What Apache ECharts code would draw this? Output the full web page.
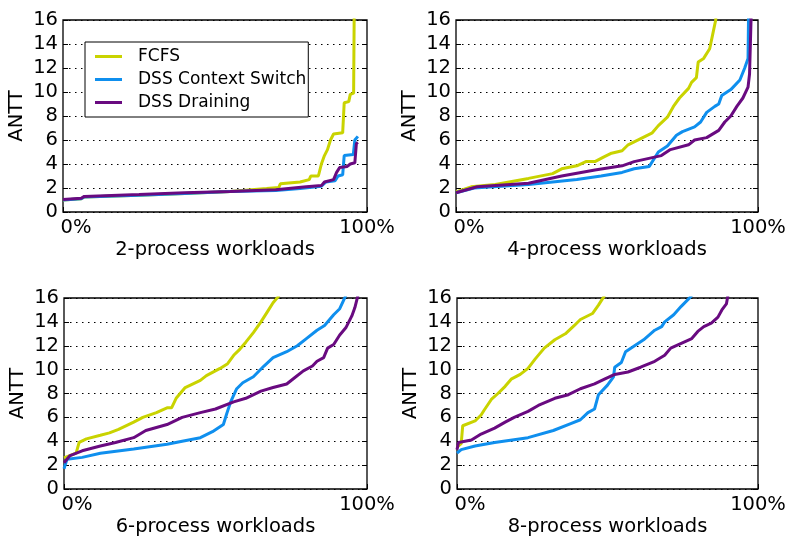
<!DOCTYPE html>
<html><head><meta charset="utf-8">
<script src="https://cdn.jsdelivr.net/npm/echarts@6/dist/echarts.min.js"></script>
<style>html,body{margin:0;padding:0;background:#fff}#c{width:790px;height:538px}</style>
</head><body><div id="c"></div>
<script>
// Series names
const seriesNames = ['FCFS', 'DSS Context Switch', 'DSS Draining'];
const panelTitles = ['2-process workloads', '4-process workloads', '6-process workloads', '8-process workloads'];
const yTicks = [0, 2, 4, 6, 8, 10, 12, 14, 16];
const xTickLabels = ['0%', '100%'];

// 2-process: [percent of workloads, ANTT]
const fcfs2 = [[0,1.0],[6,1.1],[7,1.25],[25,1.4],[40,1.55],[55,1.7],[67,1.95],[71,2.05],[71.5,2.35],[78,2.5],[81,2.7],[81.5,3.0],[84,3.0],[85,4.0],[86,4.7],[87,5.2],[88,6.0],[89,6.5],[92,6.6],[92.5,9.1],[94,9.2],[94.5,9.8],[95.6,9.9],[95.8,17]];
const cs2 = [[0,1.0],[6,1.1],[7,1.25],[25,1.4],[40,1.55],[55,1.7],[70,1.8],[78,1.95],[85,2.15],[86.5,2.5],[89.5,2.6],[90.5,3.0],[92,3.1],[92.5,4.7],[95.5,4.8],[96,6.0],[97,6.3]];
const dr2 = [[0,1.05],[6,1.15],[7,1.3],[25,1.45],[40,1.6],[55,1.7],[70,1.85],[80,2.1],[85,2.2],[86,2.5],[89,2.7],[90,3.3],[91,3.7],[93.5,3.8],[94.5,4.0],[96,4.1],[96.5,5.7],[97,5.8]];

// 4-process
const fcfs4 = [[0,1.67],[5,2.1],[13,2.3],[24,2.8],[32,3.2],[35,3.6],[40,3.85],[43,4.2],[46,4.2],[49,4.6],[51.5,4.9],[55,5.1],[57,5.6],[61,6.1],[65,6.6],[67,7.2],[70,7.9],[72,8.8],[74,9.5],[77,10.3],[78,10.8],[79.6,11.2],[80.2,12.5],[82,12.8],[84,13.6],[85,14.8],[86,16],[86.2,17]];
const cs4 = [[0,1.6],[6,2.0],[24,2.3],[40,2.7],[48,3.0],[55,3.3],[59,3.6],[64,3.8],[65.5,4.4],[67,5.0],[70,5.5],[73,6.4],[75,6.7],[79,7.1],[81,7.5],[83,8.3],[85.7,8.8],[87,9.0],[88,9.7],[91,10.2],[94,11.0],[95.6,12.0],[96.7,12.8],[96.9,17]];
const dr4 = [[0,1.6],[7,2.1],[24,2.4],[35,3.0],[46,3.5],[55,3.85],[59,4.2],[68,4.7],[71,5.2],[77,5.6],[79,6.0],[83,6.2],[87,6.8],[89,7.5],[91,8.0],[93,8.8],[95,9.5],[96.7,10.4],[97.2,11.5],[97.8,17]];

// 6-process
const fcfs6 = [[0,2.6],[4,3.0],[5,3.9],[7.4,4.2],[12,4.5],[15,4.7],[18,5.0],[23,5.6],[26,6.0],[30.5,6.4],[34,6.8],[35.5,6.8],[37,7.6],[40,8.5],[45,9.1],[47,9.5],[51.5,10.1],[54,10.5],[56,11.2],[58,11.7],[60,12.3],[62.5,13.1],[65,14.0],[67,14.8],[69,15.6],[71,16.2]];
const cs6 = [[0,1.7],[1,2.5],[6,2.65],[12,3.0],[23,3.35],[34,3.75],[39,4.0],[45,4.3],[49,4.8],[52.6,5.4],[53.7,6.3],[55,7.3],[57,8.4],[59,8.9],[62.5,9.4],[66,10.3],[69,11.0],[73.5,11.5],[77,12.0],[80,12.6],[83.5,13.3],[86,13.7],[89,14.6],[91,15.1],[93,16.2]];
const dr6 = [[0,2.2],[2,2.8],[6,3.2],[12,3.6],[17,3.9],[23,4.3],[27,4.9],[34,5.4],[39,6.0],[45,6.4],[50,6.7],[56,7.3],[60,7.6],[65,8.2],[69,8.5],[73.5,8.8],[76,9.3],[79,9.9],[82,10.3],[83.5,10.7],[85.7,11.0],[87,11.8],[89,12.1],[91,12.9],[93,13.5],[95,14.5],[96,15.2],[97,16.2]];

// 8-process
const fcfs8 = [[0,3.5],[1.4,3.8],[1.9,5.3],[6,5.7],[8,6.2],[9,6.6],[11.4,7.5],[13.6,8.0],[16,8.6],[18,9.2],[21,9.6],[23.6,10.1],[26,10.9],[29,11.8],[32.5,12.5],[36,13.0],[39,13.7],[41,14.2],[45,14.7],[47,15.4],[49,16.2]];
const cs8 = [[0,3.0],[1.4,3.3],[6,3.6],[12.5,3.9],[23.6,4.3],[32,4.9],[38,5.5],[41,5.8],[43.5,6.4],[45.7,6.7],[47,7.9],[50,8.7],[52,9.4],[52.4,10.2],[54.6,10.6],[56,11.5],[59,12.0],[62,12.5],[65.7,13.3],[68,13.6],[69,14.0],[72,14.6],[74.5,15.3],[78,16.2]];
const dr8 = [[0,3.3],[0.5,3.9],[4.8,4.1],[8,4.6],[12.5,5.1],[16,5.6],[19,6.0],[23.6,6.5],[27,7.0],[32.5,7.6],[37,7.9],[41,8.4],[45.7,8.8],[49,9.2],[52.4,9.6],[56.8,9.8],[61,10.2],[65.7,10.7],[69,11.2],[71,11.8],[74.5,12.2],[78,12.6],[80,13.2],[82,13.6],[84.5,13.9],[86.7,14.4],[88,15.0],[89.5,15.5],[90,16.2]];

const panels = [[fcfs2, cs2, dr2], [fcfs4, cs4, dr4], [fcfs6, cs6, dr6], [fcfs8, cs8, dr8]];
const colors = ['#c9d300', '#0f8fee', '#690a80'];
const FONT = 'DejaVu Sans';

const gridPos = [
  {left: 63, top: 20, width: 304, height: 192},
  {left: 456, top: 20, width: 302, height: 192},
  {left: 64, top: 298, width: 303, height: 191},
  {left: 457, top: 298, width: 301, height: 191}
];

const grids = [], xAxes = [], yAxes = [], series = [];
gridPos.forEach((g, i) => {
  grids.push(Object.assign({show: true, borderColor: '#000', borderWidth: 1.3, backgroundColor: '#fff'}, g));
  xAxes.push({
    type: 'value', gridIndex: i, min: 0, max: 100, interval: 100,
    name: panelTitles[i], nameLocation: 'middle', nameGap: 28,
    nameTextStyle: {fontFamily: FONT, fontSize: 19.5, color: '#000'},
    axisLine: {show: false}, splitLine: {show: false},
    axisTick: {show: true, inside: true, length: 5, lineStyle: {color: '#000'}},
    axisLabel: {
      fontFamily: FONT, fontSize: 19.5, color: '#000', margin: 6,
      formatter: v => v === 0 ? '{l|' + xTickLabels[0] + '}' : xTickLabels[1],
      rich: {l: {fontFamily: FONT, fontSize: 19.5, color: '#000', padding: [0, 0, 0, 26]}}
    }
  });
  yAxes.push({
    type: 'value', gridIndex: i, min: yTicks[0], max: yTicks[yTicks.length - 1], interval: 2,
    name: 'ANTT', nameLocation: 'middle', nameGap: 36,
    nameTextStyle: {fontFamily: FONT, fontSize: 19.5, color: '#000'},
    axisLine: {show: false},
    axisTick: {show: true, inside: true, length: 5, lineStyle: {color: '#000'}},
    axisLabel: {fontFamily: FONT, fontSize: 19.5, color: '#000', margin: 5},
    splitLine: {show: true, lineStyle: {color: '#000', type: [1.5, 4.5], width: 1}}
  });
  yAxes.push({
    type: 'value', gridIndex: i, position: 'right', min: 0, max: 16, interval: 2,
    axisLine: {show: false}, axisLabel: {show: false}, splitLine: {show: false},
    axisTick: {show: true, inside: true, length: 5, lineStyle: {color: '#000'}}
  });
  panels[i].forEach((d, k) => {
    series.push({
      type: 'line', name: seriesNames[k], xAxisIndex: i, yAxisIndex: i * 2,
      data: d, showSymbol: false, symbol: 'none', clip: true,
      lineStyle: {color: colors[k], width: 3}, itemStyle: {color: colors[k]},
      z: 3 + k, animation: false
    });
  });
});

const chart = echarts.init(document.getElementById('c'), null, {renderer: 'canvas'});
chart.setOption({
  backgroundColor: '#fff',
  animation: false,
  grid: grids, xAxis: xAxes, yAxis: yAxes, series: series,
  legend: {
    show: true, orient: 'vertical', left: 85, top: 42,
    data: seriesNames.map(n => ({name: n, icon: 'rect'})),
    itemWidth: 27, itemHeight: 3, itemGap: 6,
    padding: [6, 2, 6, 10],
    backgroundColor: '#fff', borderColor: '#000', borderWidth: 1,
    textStyle: {fontFamily: FONT, fontSize: 17, color: '#000', padding: [0, 0, 0, 11]},
    z: 10
  }
});
</script></body></html>
